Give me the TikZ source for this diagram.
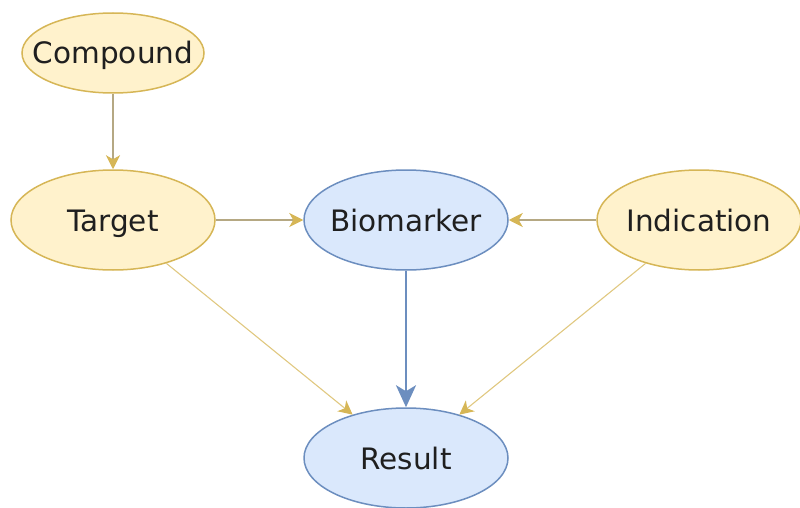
\documentclass[tikz,border=0pt]{standalone}
\usepackage{fontspec}
\setmainfont{DejaVu Sans}
\usepackage{tikz}
\usetikzlibrary{shapes.geometric, arrows.meta, positioning}

\definecolor{cream}{HTML}{FFF2CC}
\definecolor{gold}{HTML}{D6B656}
\definecolor{paleblue}{HTML}{DAE8FC}
\definecolor{steel}{HTML}{6C8EBF}
\definecolor{khaki}{HTML}{B5A883}
\definecolor{ink}{HTML}{1F1F1F}

\begin{document}
\begin{tikzpicture}[x=1pt, y=1pt, node distance=293pt, on grid,
        font=\fontsize{29.5}{34}\selectfont,
        var/.style={ellipse, draw=gold, fill=cream, line width=1.5pt, minimum width=204pt, minimum height=100pt, inner xsep=-30pt, inner ysep=0pt, text height=22pt, text depth=0pt, text=ink},
        bluevar/.style={var, draw=steel, fill=paleblue},
        link/.style={draw=khaki, line width=1.3pt, -{Stealth[length=14pt, width=14pt, inset=4pt, color=gold]}},
        slant/.style={link, draw=gold!75!white, line width=1.1pt},
        mainlink/.style={draw=steel, line width=2.6pt, -{Stealth[length=22pt, width=20pt, inset=6pt]}}]
        \useasboundingbox (0,0) rectangle (800,-508);

        \node[var] (target) at (113,-220) {Target};
        \node[var, minimum width=182pt, minimum height=80pt] (compound) [above=167pt of target] {Compound};
        \node[bluevar] (biomarker) [right=of target] {Biomarker};
        \node[var] (indication) [right=of biomarker] {Indication};
        \node[bluevar] (result) [below=238pt of biomarker] {Result};

        \path
        (compound) edge[link] (target)
        (target) edge[link] (biomarker)
        (indication) edge[link] (biomarker)
        (biomarker) edge[mainlink] (result)
        (target) edge[slant] (result)
        (indication) edge[slant] (result);

    \end{tikzpicture}
\end{document}
